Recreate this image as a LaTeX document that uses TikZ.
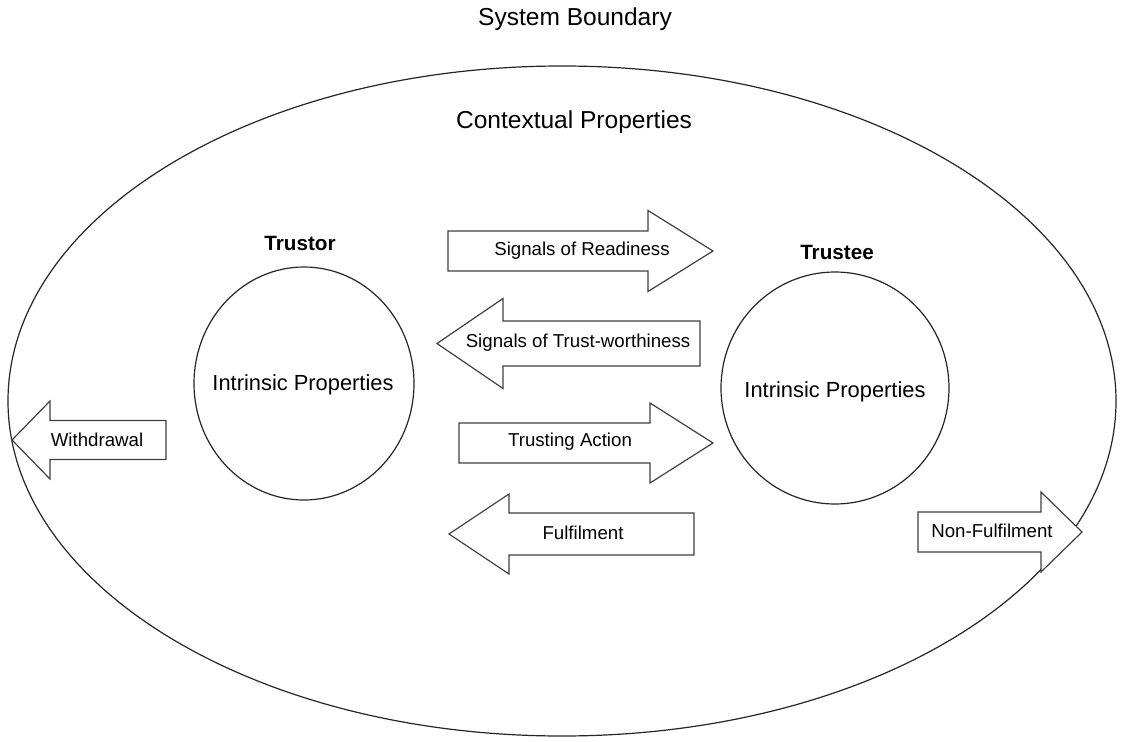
\documentclass[tikz,border=0pt]{standalone}
\usepackage{fontspec}
\setmainfont{Liberation Sans}
\usetikzlibrary{shapes.geometric}
\tikzset{
  outline/.style={draw=black!85, line width=0.9pt},
  arr/.style={draw=black!75, line width=0.9pt, fill=white, line join=miter},
  bigtxt/.style={font=\fontsize{18.4}{22}\selectfont, inner sep=0pt},
  midtxt/.style={font=\fontsize{16.4}{20}\selectfont, inner sep=0pt},
  smalltxt/.style={font=\fontsize{14}{17}\selectfont, inner sep=0pt},
  roletxt/.style={font=\bfseries\fontsize{15.5}{19}\selectfont, inner sep=0pt},
}
\newcommand{\myRarrow}[6]{% left, headbase, tip, ycenter, bodyhalf, headhalf
  \draw[arr] (#1,{#4-#5}) -- (#2,{#4-#5}) -- (#2,{#4-#6}) -- (#3,#4) -- (#2,{#4+#6}) -- (#2,{#4+#5}) -- (#1,{#4+#5}) -- cycle;}
\newcommand{\myLarrow}[6]{% right, headbase, tip, ycenter, bodyhalf, headhalf
  \draw[arr] (#1,{#4-#5}) -- (#2,{#4-#5}) -- (#2,{#4-#6}) -- (#3,#4) -- (#2,{#4+#6}) -- (#2,{#4+#5}) -- (#1,{#4+#5}) -- cycle;}
\begin{document}
\begin{tikzpicture}[x=0.75pt, y=-0.75pt]
\useasboundingbox[fill=white] (0,0) rectangle (1128,742);

% system boundary ellipse
\node[outline, ellipse, inner sep=0pt, minimum width=831pt, minimum height=502.5pt] (boundary) at (562,401) {};
\node[bigtxt] (sysb) at (575,19) {System Boundary};
\node[bigtxt] (ctx) at (574,122) {Contextual Properties};

% trustor and trustee
\node[outline, ellipse, inner sep=0pt, minimum width=165pt, minimum height=174.75pt] (trustor) at (304,383.5) {};
\node[midtxt] (trustorip) at (303,385) {Intrinsic Properties};
\node[roletxt] (trustorlbl) at (300,243) {Trustor};

\node[outline, ellipse, inner sep=0pt, minimum width=171pt, minimum height=174pt] (trustee) at (835,388) {};
\node[midtxt] (trusteeip) at (835,392) {Intrinsic Properties};
\node[roletxt] (trusteelbl) at (837,252) {Trustee};

% block arrows
\myRarrow{448}{648}{713}{251}{20}{40.5}
\node[smalltxt] (readiness) at (582,251) {Signals of Readiness};

\myLarrow{700}{503}{437}{343.5}{22.5}{45}
\node[smalltxt] (worthiness) at (578,343) {Signals of Trust-worthiness};

\myRarrow{459}{650}{713}{443}{20}{40}
\node[smalltxt] (action) at (570,442) {Trusting Action};

\myLarrow{694}{509}{449}{534}{21}{40}
\node[smalltxt] (fulfil) at (583,533) {Fulfilment};

\myLarrow{166}{50}{12}{440}{19.5}{39}
\node[smalltxt] (withdraw) at (97,440) {Withdrawal};

\myRarrow{918}{1041}{1082}{532}{20}{40}
\node[smalltxt] (nonfulfil) at (992,531) {Non-Fulfilment};
\end{tikzpicture}
\end{document}
